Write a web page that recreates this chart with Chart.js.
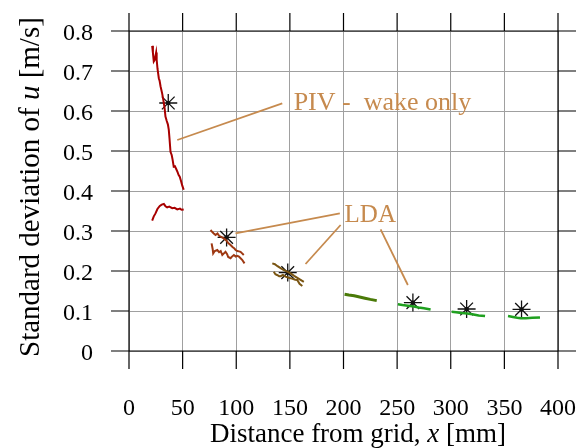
<!DOCTYPE html>
<html>
<head>
<meta charset="utf-8">
<script src="https://cdn.jsdelivr.net/npm/chart.js@4/dist/chart.umd.min.js"></script>
<style>
  html, body { margin: 0; padding: 0; background: #fff; }
  #wrap { width: 584px; height: 448px; }
</style>
</head>
<body>
<div id="wrap"><canvas id="chart" width="584" height="448"></canvas></div>
<script>
// Axis ticks
const xTickValues = [0, 50, 100, 150, 200, 250, 300, 350, 400];
const yTickValues = [0, 0.1, 0.2, 0.3, 0.4, 0.5, 0.6, 0.7, 0.8];

// PIV (wake only) traces
const pivUpperX = [21.6, 22.3, 23.1, 24.0, 25.3, 25.8, 26.6, 27.8, 28.5, 29.4, 30.9, 32.0, 33.2, 34.0, 35.2, 36.3, 37.1, 37.8, 38.7, 39.8, 40.6, 41.7, 42.8, 44.0, 45.2, 46.3, 47.3, 48.5, 49.6, 51.0];
const pivUpperY = [0.763, 0.745, 0.724, 0.728, 0.746, 0.728, 0.705, 0.682, 0.676, 0.662, 0.644, 0.628, 0.607, 0.586, 0.575, 0.566, 0.553, 0.530, 0.498, 0.490, 0.479, 0.461, 0.462, 0.455, 0.448, 0.440, 0.436, 0.425, 0.414, 0.403];
const pivLowerX = [21.6, 23.0, 24.7, 26.5, 28.7, 30.5, 32.5, 34.0, 35.6, 37.5, 40.3, 42.5, 45.0, 47.5, 49.0, 51.0];
const pivLowerY = [0.326, 0.336, 0.344, 0.355, 0.3625, 0.366, 0.3675, 0.362, 0.359, 0.361, 0.357, 0.358, 0.354, 0.356, 0.353, 0.354];

// LDA traces
const lda1aX = [76, 77.5, 79, 80.7, 82.5, 84, 85.4, 87.5, 89.5, 91, 92.5, 94.7, 96.5, 98, 99.4, 101, 102.5, 104, 105.5, 107];
const lda1aY = [0.3025, 0.298, 0.294, 0.29, 0.294, 0.288, 0.286, 0.283, 0.279, 0.276, 0.27, 0.265, 0.26, 0.257, 0.2525, 0.25, 0.249, 0.248, 0.244, 0.24];
const lda1bX = [77, 78, 78.5, 80, 82.3, 84, 85.5, 87, 88.5, 90, 91.5, 92.5, 94.7, 96, 97.8, 99.5, 101, 102.5, 104, 105.5, 107.7];
const lda1bY = [0.269, 0.255, 0.244, 0.25, 0.2525, 0.247, 0.25, 0.24, 0.244, 0.248, 0.242, 0.235, 0.232, 0.236, 0.24, 0.236, 0.238, 0.236, 0.232, 0.228, 0.219];
const lda2aX = [133.6, 136, 138.5, 141.3, 144, 147, 150.7, 154, 157, 160, 163];
const lda2aY = [0.219, 0.217, 0.212, 0.207, 0.203, 0.199, 0.194, 0.188, 0.183, 0.178, 0.173];
const lda2bX = [135, 136.5, 138, 140, 141.3, 143.5, 146, 149, 152, 155, 156.9, 159, 161.6];
const lda2bY = [0.198, 0.192, 0.19, 0.187, 0.187, 0.19, 0.186, 0.183, 0.181, 0.178, 0.1775, 0.168, 0.1625];
const lda3X = [201, 205, 210, 215, 220, 225, 231];
const lda3Y = [0.142, 0.140, 0.138, 0.135, 0.132, 0.129, 0.126];
const lda4X = [250.7, 255, 260, 265.7, 270, 275, 281.2];
const lda4Y = [0.117, 0.115, 0.113, 0.111, 0.109, 0.107, 0.104];
const lda5X = [300.8, 305, 310, 315.5, 320, 326, 332];
const lda5Y = [0.098, 0.097, 0.095, 0.094, 0.092, 0.089, 0.0875];
const lda6X = [353.4, 358, 362, 365.2, 370, 376, 383.2];
const lda6Y = [0.0875, 0.085, 0.083, 0.082, 0.082, 0.083, 0.084];

// Point averages (stars)
const starX = [36.6, 91, 148, 264.7, 314.8, 366];
const starY = [0.62, 0.284, 0.196, 0.121, 0.105, 0.104];

// Annotation pointers and labels
const pointerPivX = [45, 142.9];
const pointerPivY = [0.5275, 0.619];
const pointerLdaAX = [99.3, 196.6];
const pointerLdaAY = [0.294, 0.344];
const pointerLdaBX = [197.3, 164.6];
const pointerLdaBY = [0.315, 0.2175];
const pointerLdaCX = [234.6, 260];
const pointerLdaCY = [0.304, 0.165];
const noteTexts = ['PIV -  wake only', 'LDA'];
const noteX = [153.5, 201];
const noteY = [0.6025, 0.323];

const SERIF = '"Liberation Serif", "DejaVu Serif", serif';
const NOTE_COLOR = '#c68a4e';

function pts(xs, ys) {
    return xs.map((x, i) => ({ x: x, y: ys[i] }));
}

function trace(xs, ys, color, width) {
    return {
        data: pts(xs, ys),
        showLine: true,
        borderColor: color,
        borderWidth: width || 2,
        pointRadius: 0,
        fill: false
    };
}

// frame, outward ticks, tick labels, axis titles and notes
const decorPlugin = {
    id: 'decor',
    afterDraw(chart) {
        const ctx = chart.ctx;
        const area = chart.chartArea;
        const xs = chart.scales.x;
        const ys = chart.scales.y;
        const tl = 18;

        ctx.save();
        ctx.strokeStyle = '#000';
        ctx.lineWidth = 1.2;
        ctx.beginPath();
        // frame lines, extended by tick length
        ctx.moveTo(area.left - tl, area.top); ctx.lineTo(area.right + tl, area.top);
        ctx.moveTo(area.left - tl, area.bottom); ctx.lineTo(area.right + tl, area.bottom);
        ctx.moveTo(area.left, area.top - tl); ctx.lineTo(area.left, area.bottom + tl);
        ctx.moveTo(area.right, area.top - tl); ctx.lineTo(area.right, area.bottom + tl);
        xTickValues.forEach(v => {
            const px = xs.getPixelForValue(v);
            ctx.moveTo(px, area.top - tl); ctx.lineTo(px, area.top);
            ctx.moveTo(px, area.bottom); ctx.lineTo(px, area.bottom + tl);
        });
        yTickValues.forEach(v => {
            const py = ys.getPixelForValue(v);
            ctx.moveTo(area.left - tl, py); ctx.lineTo(area.left, py);
            ctx.moveTo(area.right, py); ctx.lineTo(area.right + tl, py);
        });
        ctx.stroke();

        // tick labels
        ctx.fillStyle = '#000';
        ctx.font = '24px ' + SERIF;
        ctx.textBaseline = 'alphabetic';
        ctx.textAlign = 'center';
        xTickValues.forEach(v => {
            ctx.fillText(String(v), xs.getPixelForValue(v), 415);
        });
        ctx.textAlign = 'right';
        yTickValues.forEach(v => {
            ctx.fillText(String(v), 93, ys.getPixelForValue(v) + 8.5);
        });

        // notes
        ctx.fillStyle = NOTE_COLOR;
        ctx.textAlign = 'left';
        ctx.font = '26px ' + SERIF;
        ctx.fillText(noteTexts[0], xs.getPixelForValue(noteX[0]), ys.getPixelForValue(noteY[0]));
        ctx.font = '25px ' + SERIF;
        ctx.fillText(noteTexts[1], xs.getPixelForValue(noteX[1]), ys.getPixelForValue(noteY[1]));

        // axis titles with italic variables
        ctx.fillStyle = '#000';
        drawMixed(ctx, [['Distance from grid, ', false], ['x', true], [' [mm]', false]], 27, 358, 442, 'center');
        ctx.translate(39, 357);
        ctx.rotate(-Math.PI / 2);
        drawMixed(ctx, [['Standard deviation of ', false], ['u', true], [' [m/s]', false]], 29, 0, 0, 'start');
        ctx.restore();
    }
};

function drawMixed(ctx, parts, size, ax, baseY, anchor) {
    const fonts = parts.map(p => (p[1] ? 'italic ' : '') + size + 'px ' + SERIF);
    let total = 0;
    const widths = parts.map((p, i) => { ctx.font = fonts[i]; const w = ctx.measureText(p[0]).width; total += w; return w; });
    let x = anchor === 'center' ? ax - total / 2 : ax;
    ctx.textAlign = 'left';
    parts.forEach((p, i) => {
        ctx.font = fonts[i];
        ctx.fillText(p[0], x, baseY);
        x += widths[i];
    });
}

const datasets = [
    trace(pivUpperX, pivUpperY, '#a80000', 2),
    trace(pivLowerX, pivLowerY, '#a80000', 2),
    trace(lda1aX, lda1aY, '#9e3812', 2),
    trace(lda1bX, lda1bY, '#9e3812', 2),
    trace(lda2aX, lda2aY, '#7a5512', 2),
    trace(lda2bX, lda2bY, '#7a5512', 2),
    trace(lda3X, lda3Y, '#4a7a08', 3),
    trace(lda4X, lda4Y, '#20a020', 2.5),
    trace(lda5X, lda5Y, '#20a020', 2.5),
    trace(lda6X, lda6Y, '#20a020', 2.5),
    trace(pointerPivX, pointerPivY, NOTE_COLOR, 1.8),
    trace(pointerLdaAX, pointerLdaAY, NOTE_COLOR, 1.8),
    trace(pointerLdaBX, pointerLdaBY, NOTE_COLOR, 1.8),
    trace(pointerLdaCX, pointerLdaCY, NOTE_COLOR, 1.8),
    {
        data: pts(starX, starY),
        showLine: false,
        pointStyle: 'star',
        pointRadius: 9,
        borderColor: '#111',
        borderWidth: 1.3,
        backgroundColor: '#111'
    },
    {
        data: pts(starX, starY),
        showLine: false,
        pointStyle: 'circle',
        pointRadius: 2.2,
        borderWidth: 0,
        backgroundColor: '#000'
    }
];

new Chart(document.getElementById('chart'), {
    type: 'scatter',
    data: { datasets: datasets },
    options: {
        responsive: false,
        animation: false,
        events: [],
        layout: { padding: { left: 0, right: 26, top: 31, bottom: 0 } },
        plugins: { legend: { display: false }, tooltip: { enabled: false } },
        scales: {
            x: {
                type: 'linear',
                min: 0,
                max: 400,
                afterBuildTicks: s => { s.ticks = xTickValues.map(v => ({ value: v })); },
                afterFit: s => { s.height = 97; },
                border: { display: false },
                grid: { color: '#a0a0a0', borderDash: [1.5, 3], lineWidth: 1, drawTicks: false },
                ticks: { display: false }
            },
            y: {
                type: 'linear',
                min: 0,
                max: 0.8,
                afterBuildTicks: s => { s.ticks = yTickValues.map(v => ({ value: v })); },
                afterFit: s => { s.width = 129; },
                border: { display: false },
                grid: { color: '#a0a0a0', borderDash: [1.5, 3], lineWidth: 1, drawTicks: false },
                ticks: { display: false }
            }
        }
    },
    plugins: [decorPlugin]
});
</script>
</body>
</html>
